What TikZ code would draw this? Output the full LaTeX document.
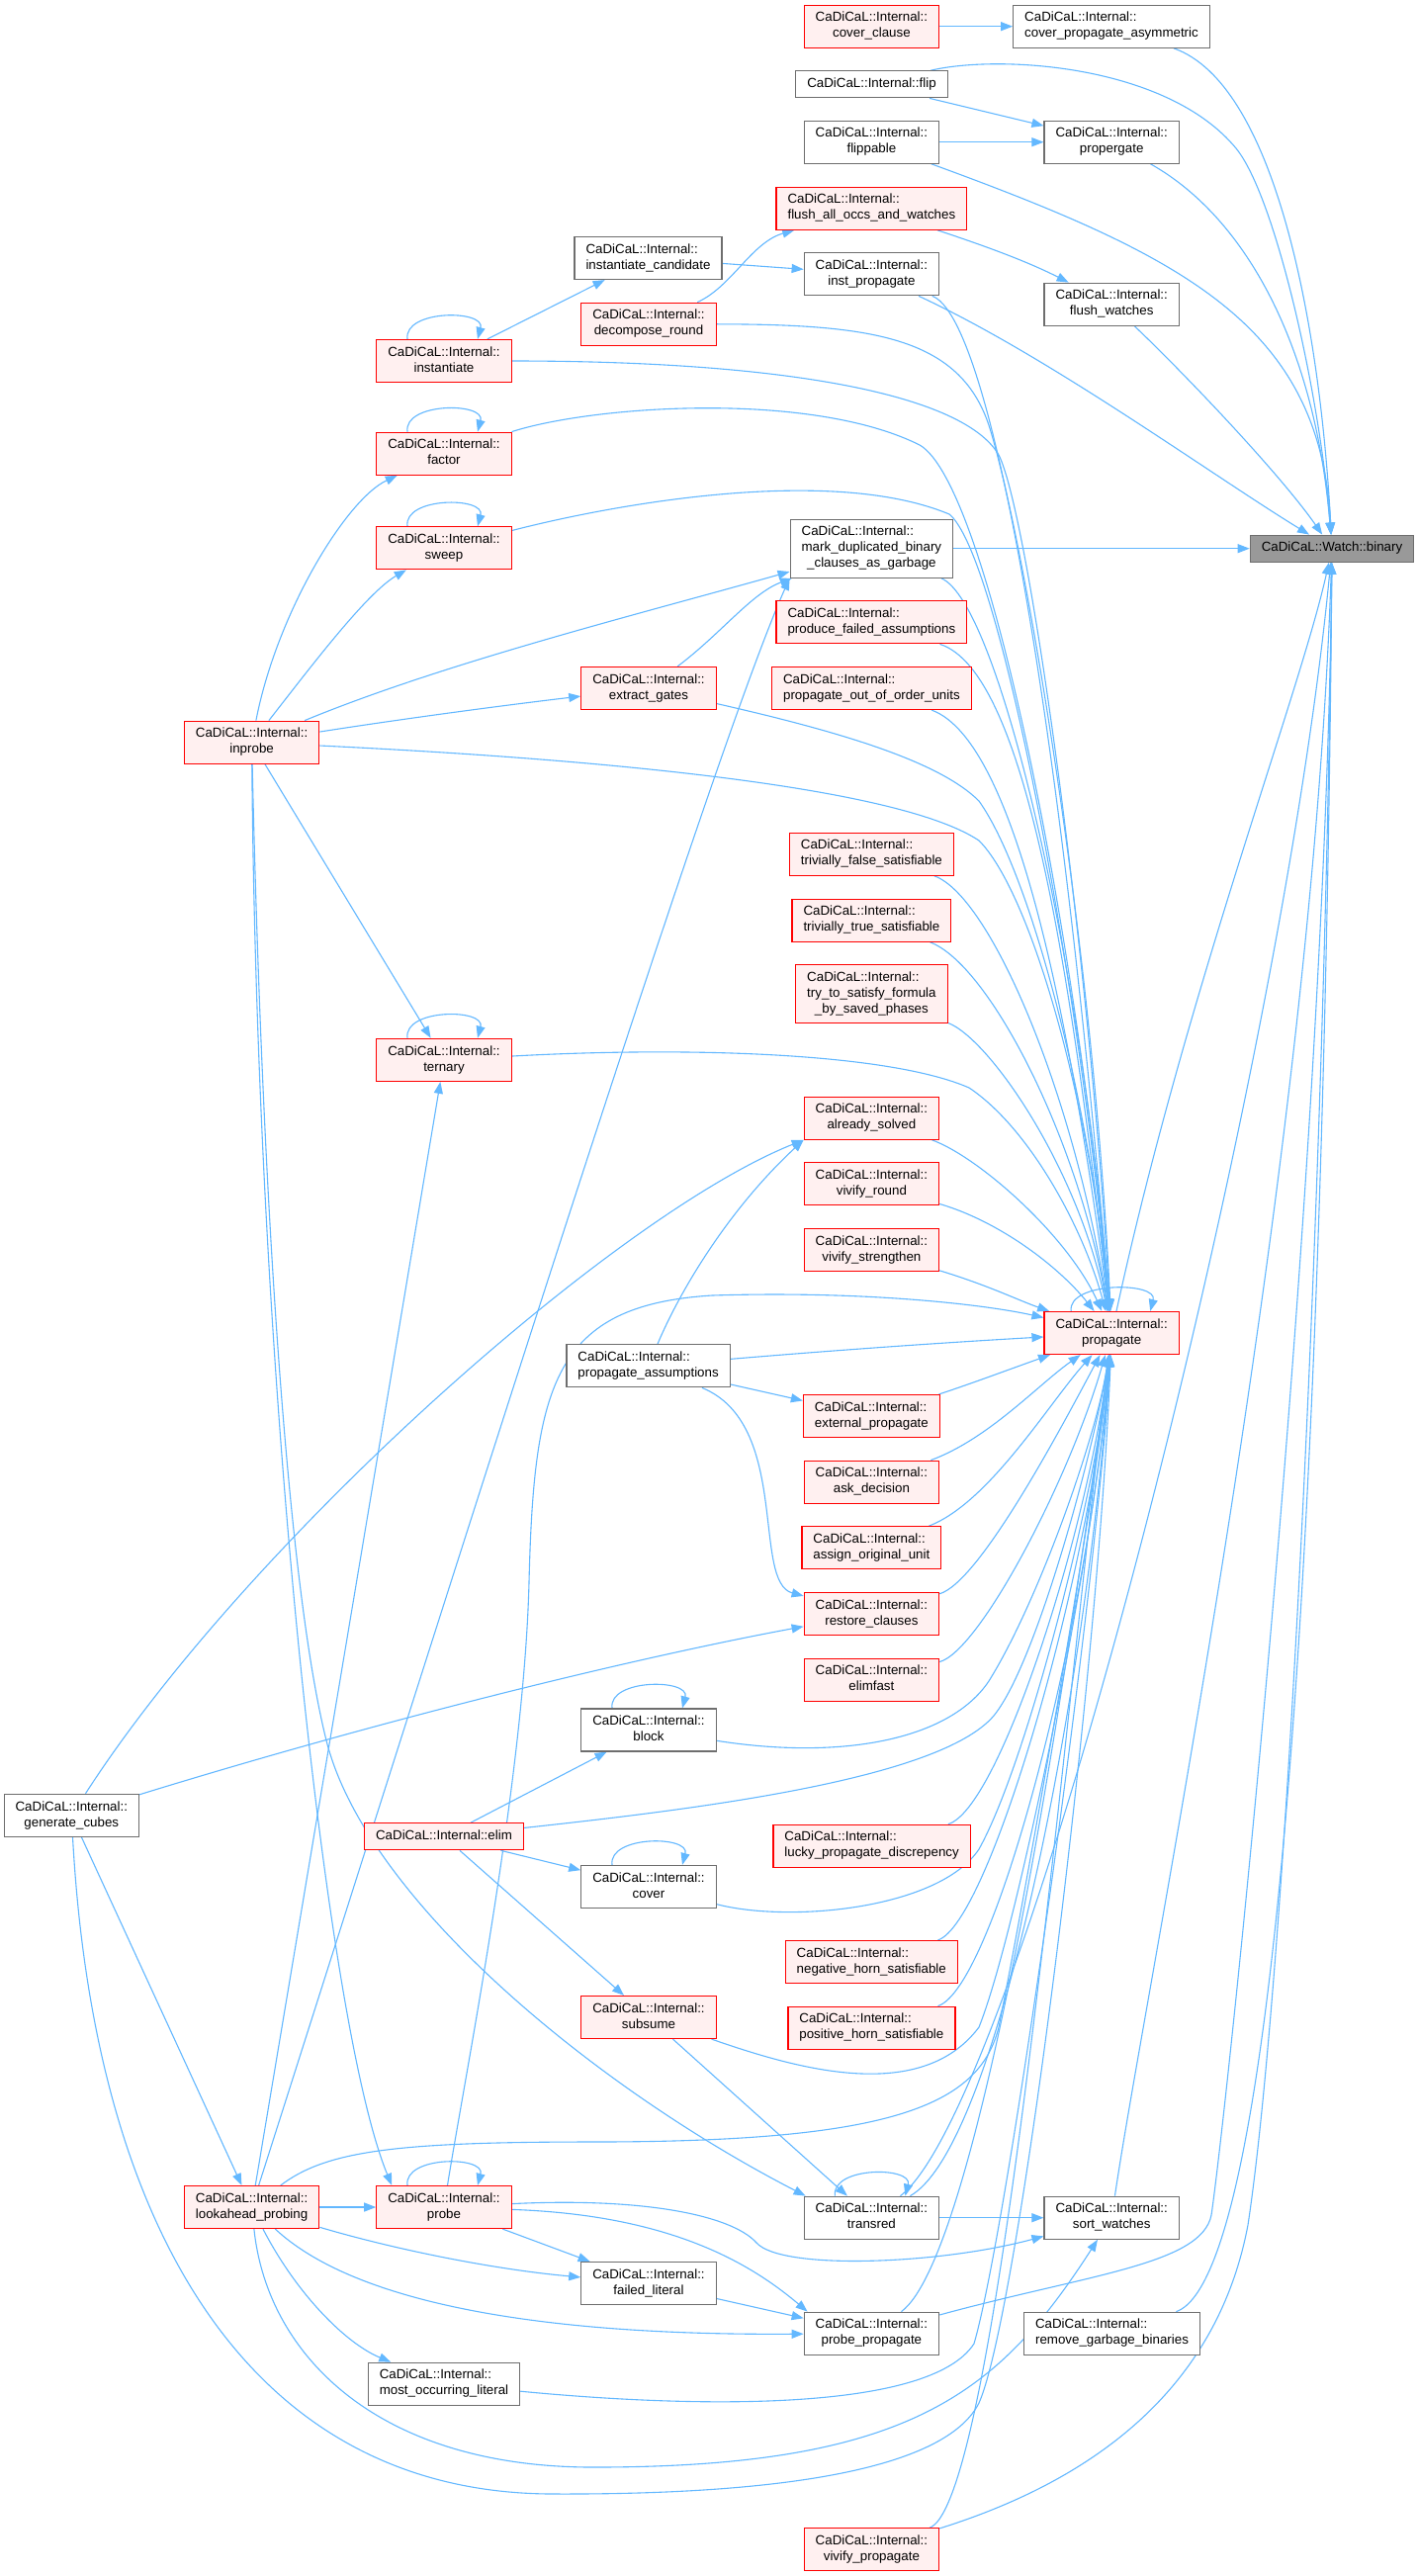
\documentclass[tikz,border=0pt]{standalone}
\usepackage{fontspec}
\setmainfont{Liberation Sans}
\usetikzlibrary{arrows.meta}
\definecolor{ecol}{RGB}{99,184,255}
\definecolor{rborder}{RGB}{255,0,0}
\definecolor{rfill}{RGB}{255,240,240}
\definecolor{gborder}{RGB}{110,110,110}
\definecolor{bfill}{RGB}{153,153,153}
\newcommand\Lone[1]{\begin{tabular}{@{}c@{}}#1\end{tabular}}
\newcommand\Ltwo[1]{\begin{tabular}{@{}c@{}}\multicolumn{1}{@{}l@{}}{CaDiCaL::Internal::}\\#1\end{tabular}}
\newcommand\Lthree[2]{\begin{tabular}{@{}c@{}}\multicolumn{1}{@{}l@{}}{CaDiCaL::Internal::}\\#1\\#2\end{tabular}}
\newcommand\selfloop[1]{\draw[call] ([xshift=-37pt]#1.north) .. controls +(-4,-30) and +(8,-30) .. ([xshift=34pt]#1.north);}
\pgfdeclarelayer{bg}
\pgfsetlayers{bg,main}
\begin{document}
\begin{tikzpicture}[x=1pt,y=-1pt,
 nd/.style={rectangle, inner xsep=11.5pt, inner ysep=5.5pt, line width=1.2pt, font=\fontsize{13.33pt}{16pt}\selectfont},
 rn/.style={nd, draw=rborder, fill=rfill},
 bn/.style={nd, draw=gborder, fill=white},
 gn/.style={nd, draw=gborder, fill=bfill},
 call/.style={draw=ecol, line width=1.1pt, -{Triangle[length=12pt,width=9pt]}}]
\begin{pgfonlayer}{bg}
\fill[white] (0,0) rectangle (1434,2605);
\end{pgfonlayer}
\useasboundingbox (0,0) rectangle (1434,2605);
% nodes
\node[rn] (cc) at (881.4,26.7) {\Ltwo{cover\_clause}};
\node[bn] (cpa) at (1124,26.7) {\Ltwo{cover\_propagate\_asymmetric}};
\node[bn] (flip) at (881.5,85.3) {\Lone{CaDiCaL::Internal::flip}};
\node[bn] (flippable) at (881.4,143.7) {\Ltwo{flippable}};
\node[bn] (propergate) at (1124.2,143.7) {\Ltwo{propergate}};
\node[rn] (faow) at (881.4,210.7) {\Ltwo{flush\_all\_occs\_and\_watches}};
\node[bn] (ic) at (655.5,261) {\Ltwo{instantiate\_candidate}};
\node[bn] (ip) at (881.4,277.3) {\Ltwo{inst\_propagate}};
\node[bn] (fw) at (1124.2,307.7) {\Ltwo{flush\_watches}};
\node[rn] (dr) at (656,327.7) {\Ltwo{decompose\_round}};
\node[rn] (inst) at (449,365) {\Ltwo{instantiate}};
\node[rn] (factor) at (449,458.7) {\Ltwo{factor}};
\node[rn] (sweep) at (449,554.3) {\Ltwo{sweep}};
\node[bn] (mdb) at (881.4,554.7) {\Lthree{mark\_duplicated\_binary}{\_clauses\_as\_garbage}};
\node[gn] (bin) at (1347,554.7) {\Lone{CaDiCaL::Watch::binary}};
\node[rn] (pfa) at (881.4,629.3) {\Ltwo{produce\_failed\_assumptions}};
\node[rn] (pooou) at (881.4,696) {\Ltwo{propagate\_out\_of\_order\_units}};
\node[rn] (eg) at (656,696) {\Ltwo{extract\_gates}};
\node[rn] (inprobe) at (254.6,750.7) {\Ltwo{inprobe}};
\node[rn] (tfs) at (881.4,863.7) {\Ltwo{trivially\_false\_satisfiable}};
\node[rn] (tts) at (881.4,930.7) {\Ltwo{trivially\_true\_satisfiable}};
\node[rn] (tsf) at (881.4,1005.3) {\Lthree{try\_to\_satisfy\_formula}{\_by\_saved\_phases}};
\node[rn] (ternary) at (449,1071.8) {\Ltwo{ternary}};
\node[rn] (as) at (881.4,1130.7) {\Ltwo{already\_solved}};
\node[rn] (vr) at (881.4,1197.3) {\Ltwo{vivify\_round}};
\node[rn] (vs) at (881.4,1264) {\Ltwo{vivify\_strengthen}};
\node[rn] (prop) at (1124.2,1348) {\Ltwo{propagate}};
\node[bn] (pa) at (655.6,1381.3) {\Ltwo{propagate\_assumptions}};
\node[rn] (ep) at (881.4,1432) {\Ltwo{external\_propagate}};
\node[rn] (ad) at (881.4,1498.7) {\Ltwo{ask\_decision}};
\node[rn] (aou) at (881.4,1565.3) {\Ltwo{assign\_original\_unit}};
\node[rn] (rc) at (881.4,1632) {\Ltwo{restore\_clauses}};
\node[rn] (ef) at (881.4,1698.7) {\Ltwo{elimfast}};
\node[bn] (block) at (656,1749.5) {\Ltwo{block}};
\node[bn] (gc) at (72.3,1835.8) {\Ltwo{generate\_cubes}};
\node[rn] (elim) at (449,1857.2) {\Lone{CaDiCaL::Internal::elim}};
\node[rn] (lpd) at (881.6,1866.7) {\Ltwo{lucky\_propagate\_discrepency}};
\node[bn] (cover) at (656,1908) {\Ltwo{cover}};
\node[rn] (nhs) at (881.3,1984) {\Ltwo{negative\_horn\_satisfiable}};
\node[rn] (subsume) at (656,2040) {\Ltwo{subsume}};
\node[rn] (phs) at (881.4,2050.7) {\Ltwo{positive\_horn\_satisfiable}};
\node[rn] (lp) at (254.6,2232) {\Ltwo{lookahead\_probing}};
\node[rn] (probe) at (449,2232) {\Ltwo{probe}};
\node[bn] (transred) at (881.4,2242.7) {\Ltwo{transred}};
\node[bn] (sw) at (1124.2,2242.7) {\Ltwo{sort\_watches}};
\node[bn] (fl) at (656,2309) {\Ltwo{failed\_literal}};
\node[bn] (pp) at (881.4,2359.7) {\Ltwo{probe\_propagate}};
\node[bn] (rgb) at (1124.5,2359.7) {\Ltwo{remove\_garbage\_binaries}};
\node[bn] (mol) at (449,2410.7) {\Ltwo{most\_occurring\_literal}};
\node[rn] (vp) at (881.4,2578.3) {\Ltwo{vivify\_propagate}};
% edges
\begin{pgfonlayer}{bg}
\draw[call] (cc) -- (cpa);
\draw[call] (cpa) .. controls (1290,85) and (1335,330) .. (bin);
\draw[call] (flip) -- (propergate);
\draw[call] (flippable) -- (propergate);
\draw[call] (flip) .. controls (1010,55) and (1180,65) .. (1250,150) .. controls (1290,199) and (1335,400) .. (bin);
\draw[call] (flippable) .. controls (1200,260) and (1335,330) .. (bin);
\draw[call] (propergate) .. controls (1260,220) and (1330,350) .. (bin);
\draw[call] (faow) .. controls (1000,250) and (1040,265) .. (fw);
\draw[call] (fw) .. controls (1200,380) and (1295,480) .. (bin);
\draw[call] (ic) -- (ip);
\draw[call] (ip) .. controls (1060,360) and (1225,480) .. (bin);
\draw[call] (ip) .. controls (1000,320) and (1070,700) .. (prop);
\draw[call] (dr) .. controls (740,290) and (760,245) .. (faow);
\draw[call] (dr) .. controls (880,328) and (970,340) .. (1000,430) .. controls (1035,540) and (1105,950) .. (prop);
\selfloop{inst}
\draw[call] (inst) -- (ic);
\draw[call] (inst) .. controls (800,365) and (975,400) .. (1010,460) .. controls (1040,520) and (1100,950) .. (prop);
\selfloop{factor}
\draw[call] (factor) .. controls (600,410) and (820,395) .. (930,450) .. controls (1000,490) and (1090,950) .. (prop);
\selfloop{sweep}
\draw[call] (sweep) .. controls (620,510) and (840,470) .. (960,520) .. controls (1010,560) and (1090,980) .. (prop);
\draw[call] (mdb) -- (bin);
\draw[call] (mdb) .. controls (1011,610) and (1095,980) .. (prop);
\draw[call] (pfa) .. controls (1040,680) and (1085,1000) .. (prop);
\draw[call] (pooou) .. controls (1030,750) and (1085,1050) .. (prop);
\draw[call] (eg) .. controls (730,640) and (760,600) .. (mdb);
\draw[call] (eg) .. controls (850,740) and (950,770) .. (990,810) .. controls (1040,880) and (1100,1100) .. (prop);
\draw[call] (inprobe) .. controls (280,620) and (350,505) .. (factor);
\draw[call] (inprobe) .. controls (310,680) and (370,600) .. (sweep);
\draw[call] (inprobe) .. controls (450,670) and (650,620) .. (mdb);
\draw[call] (inprobe) .. controls (420,725) and (520,712) .. (eg);
\draw[call] (inprobe) .. controls (550,765) and (900,790) .. (990,850) .. controls (1040,900) and (1100,1100) .. (prop);
\draw[call] (inprobe) -- (ternary);
\draw[call] (inprobe) .. controls (260,1400) and (330,2050) .. ([xshift=16pt]probe.north west);
\draw[call] (inprobe) .. controls (265,1200) and (290,1600) .. (330,1760) .. controls (370,1920) and (600,2110) .. ([xshift=2pt]transred.north west);
\selfloop{ternary}
\draw[call] (ternary) .. controls (700,1058) and (900,1065) .. (980,1100) .. controls (1040,1140) and (1095,1240) .. (prop);
\draw[call] (tfs) .. controls (1000,905) and (1085,1100) .. (prop);
\draw[call] (tts) .. controls (1000,975) and (1090,1150) .. (prop);
\draw[call] (tsf) .. controls (1000,1050) and (1090,1180) .. (prop);
\draw[call] (as) .. controls (990,1170) and (1080,1250) .. (prop);
\draw[call] (vr) .. controls (1010,1235) and (1070,1280) .. (prop);
\draw[call] (vs) .. controls (1000,1300) and (1030,1315) .. (prop);
\draw[call] (pa) .. controls (850,1365) and (950,1358) .. (prop);
\draw[call] (pa) -- (ep);
\draw[call] (pa) .. controls (800,1440) and (760,1600) .. (rc);
\draw[call] (pa) .. controls (690,1300) and (740,1220) .. (as.south west);
\draw[call] (gc) .. controls (250,1560) and (620,1230) .. (as.south west);
\draw[call] (gc) .. controls (400,1735) and (650,1675) .. (rc);
\draw[call] (gc) -- (lp);
\draw[call] (gc) .. controls (95,2250) and (250,2522) .. (560,2522) .. controls (820,2523) and (960,2490) .. (990,2430) .. controls (1030,2340) and (1110,1700) .. (prop);
\draw[call] (ep) .. controls (980,1400) and (1020,1385) .. (prop);
\draw[call] (ad) .. controls (1000,1455) and (1050,1400) .. (prop);
\draw[call] (aou) .. controls (1000,1520) and (1060,1420) .. (prop);
\draw[call] (rc) .. controls (990,1600) and (1070,1450) .. (prop);
\draw[call] (ef) .. controls (990,1670) and (1080,1500) .. (prop);
\selfloop{block}
\draw[call] (block) .. controls (850,1780) and (960,1760) .. (1000,1700) .. controls (1050,1620) and (1110,1450) .. (prop);
\draw[call] (elim) -- (block);
\draw[call] (elim) -- (cover);
\draw[call] (elim) -- (subsume);
\draw[call] (elim) .. controls (700,1830) and (950,1800) .. (1005,1735) .. controls (1050,1680) and (1110,1450) .. (prop);
\selfloop{cover}
\draw[call] (cover) .. controls (800,1945) and (950,1930) .. (990,1870) .. controls (1040,1780) and (1110,1500) .. (prop);
\draw[call] (lpd) .. controls (1010,1830) and (1100,1550) .. (prop);
\draw[call] (nhs) .. controls (1000,1945) and (1100,1600) .. (prop);
\draw[call] (subsume) .. controls (800,2090) and (930,2130) .. (990,2050) .. controls (1030,1950) and (1110,1550) .. (prop);
\draw[call] (subsume) -- (transred);
\draw[call] (phs) .. controls (1005,2010) and (1100,1650) .. (prop);
\draw[call] (lp) .. controls (330,2175) and (400,2166) .. (600,2166) .. controls (900,2166) and (990,2130) .. (1010,2050) .. controls (1040,1900) and (1110,1500) .. (prop);
\draw[call] (lp) -- (ternary);
\draw[call] (lp) .. controls (450,1620) and (720,760) .. (mdb.south west);
\draw[call] (lp) -- (probe);
\draw[call] (lp) .. controls (400,2275) and (500,2295) .. (fl);
\draw[call] (lp) .. controls (360,2330) and (550,2362) .. (pp);
\draw[call] (lp) .. controls (300,2320) and (350,2370) .. (mol);
\draw[call] (lp) .. controls (270,2380) and (380,2495) .. (600,2495) .. controls (920,2495) and (1010,2420) .. (sw);
\selfloop{probe}
\draw[call] (probe) .. controls (470,2100) and (530,1800) .. (535,1600) .. controls (540,1400) and (560,1320) .. (720,1310) .. controls (880,1305) and (1000,1320) .. (prop);
\draw[call] (probe) -- (fl);
\draw[call] (probe) .. controls (680,2240) and (760,2290) .. ([xshift=4pt]pp.north west);
\draw[call] (probe) .. controls (650,2222) and (740,2240) .. (765,2268) .. controls (790,2296) and (950,2290) .. (sw);
\selfloop{transred}
\draw[call] (transred) -- (sw);
\draw[call] (transred) .. controls (1010,2170) and (1100,1700) .. (prop);
\draw[call] (transred) .. controls (1030,2130) and (1295,1100) .. (bin);
\draw[call] (sw) .. controls (1160,2000) and (1325,1200) .. (bin);
\draw[call] (pp) .. controls (1100,2300) and (1215,2290) .. (1225,2240) .. controls (1240,2140) and (1340,1200) .. (bin);
\draw[call] (pp) .. controls (990,2280) and (1080,1700) .. (prop);
\draw[call] (fl) -- (pp);
\draw[call] (rgb) .. controls (1300,2300) and (1340,1400) .. (bin);
\draw[call] (mol) .. controls (700,2435) and (940,2440) .. (985,2370) .. controls (1020,2250) and (1110,1600) .. (prop);
\draw[call] (vp) .. controls (1100,2510) and (1230,2420) .. (1262,2250) .. controls (1300,2000) and (1340,1200) .. (bin);
\draw[call] (vp) .. controls (1010,2530) and (1080,1700) .. (prop);
\draw[call] (prop) .. controls (1200,1000) and (1315,700) .. (bin);
\draw[call] ([xshift=-41pt]prop.north) .. controls +(-4,-30) and +(8,-30) .. ([xshift=39pt]prop.north);
\end{pgfonlayer}
\end{tikzpicture}
\end{document}
